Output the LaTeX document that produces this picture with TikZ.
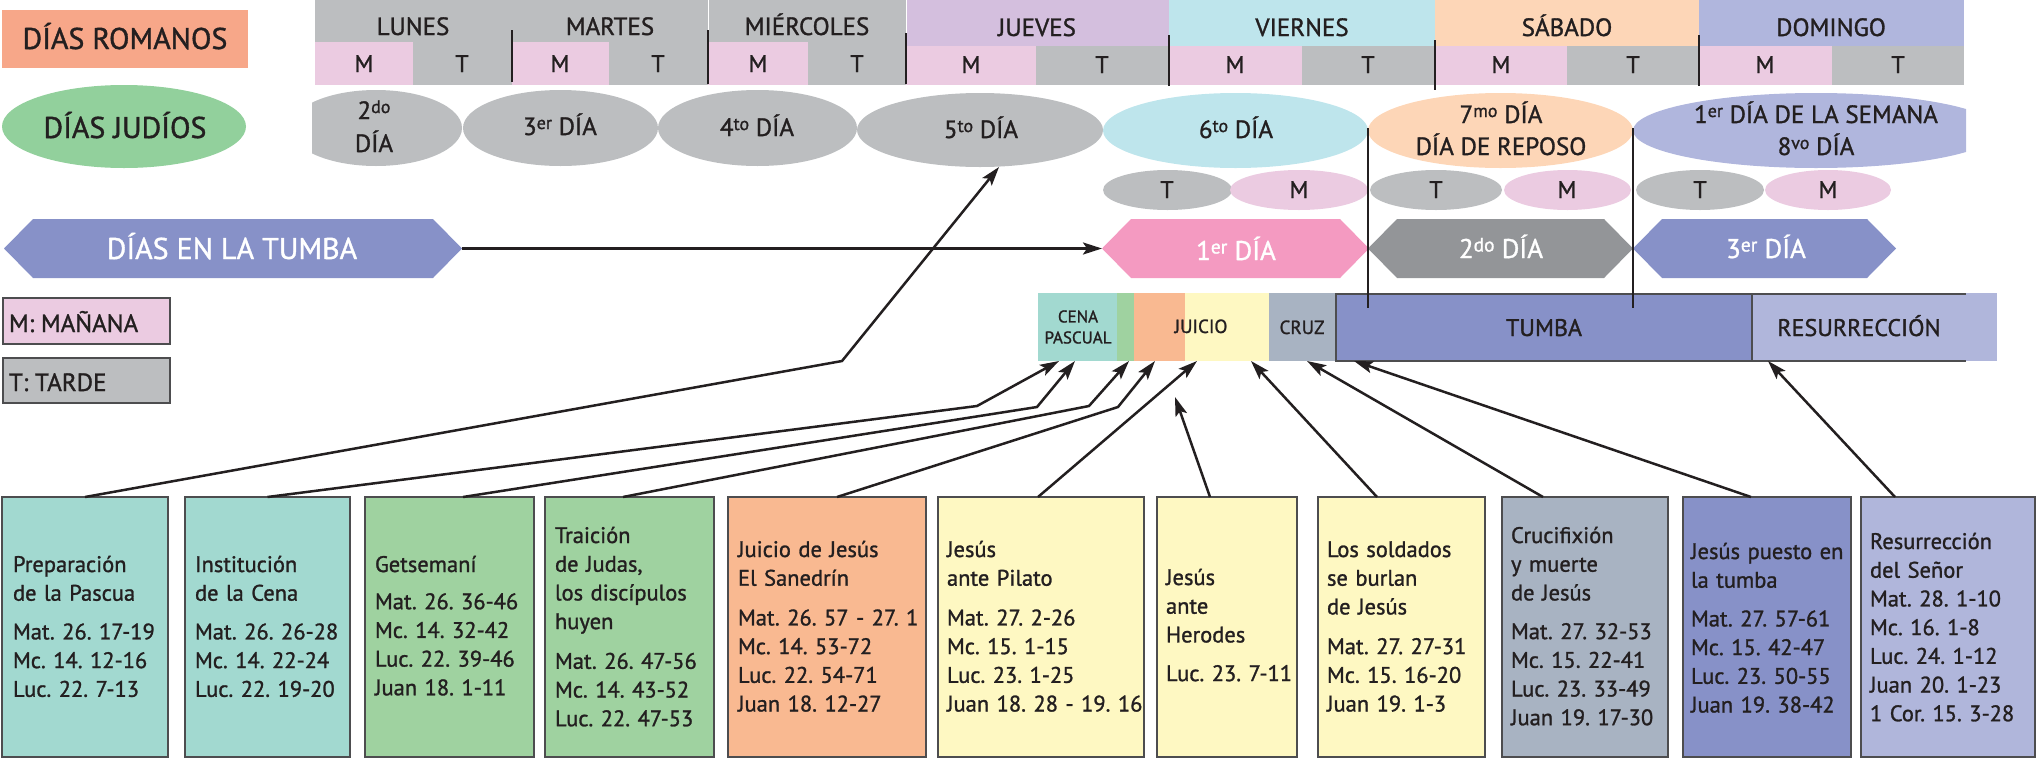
\documentclass[tikz,border=0pt]{standalone}
\usepackage{graphicx}
\usepackage{fontspec}
\setmainfont{PT Sans}[FakeBold=1.2]
\usetikzlibrary{shapes.geometric,arrows.meta,calc}
\definecolor{txt}{HTML}{231F20}
\definecolor{hgrey}{HTML}{BCBEC0}
\definecolor{mpink}{HTML}{EBCBE1}
\definecolor{juev}{HTML}{D4BFDE}
\definecolor{vier}{HTML}{BEE5EC}
\definecolor{saba}{HTML}{FDD6B7}
\definecolor{domi}{HTML}{B0B6DD}
\definecolor{romanos}{HTML}{F7A789}
\definecolor{judios}{HTML}{92D09C}
\definecolor{tumC}{HTML}{8791C8}
\definecolor{diaA}{HTML}{F49AC1}
\definecolor{diaB}{HTML}{939598}
\definecolor{cenaC}{HTML}{A2D9D0}
\definecolor{getC}{HTML}{9FD2A0}
\definecolor{juiO}{HTML}{F9B991}
\definecolor{juiY}{HTML}{FEF8C2}
\definecolor{cruzC}{HTML}{A8B3C2}
\definecolor{resC}{HTML}{B0B6DB}
\definecolor{bord}{HTML}{4D4D4F}
\newcommand\hexshape[3]{\fill[#1] (#2,248.5) -- (#2+29,219) -- (#3-29,219) -- (#3,248.5) -- (#3-29,278) -- (#2+29,278) -- cycle;}
\newcommand\sups[1]{\raisebox{0.24em}{\scalebox{0.72}{#1}}}
\frenchspacing
\begin{document}
\frenchspacing
\begin{tikzpicture}[x=1pt,y=-1pt,
  every node/.style={inner sep=0pt,outer sep=0pt,text=txt},
  tx/.style={anchor=base,font={\fontsize{#1}{#1}\selectfont\frenchspacing}},
  wt/.style={tx=#1,text=white},
  sm/.style={ellipse,minimum height=40pt},
  ell/.style={ellipse},
  barseg/.style={anchor=north west,minimum height=68pt},
  bx/.style={draw=bord,line width=1.2pt,anchor=north west,minimum height=260pt},
  bt/.style={anchor=base west,font={\fontsize{22.5}{28.7}\selectfont\frenchspacing},text width=200pt,align=left},
  lg/.style={draw=bord,line width=1.2pt,anchor=north west,minimum width=167pt},
  lgt/.style={anchor=base west,font={\fontsize{25}{25}\selectfont}},
  arr/.style={line width=2.5pt,draw=txt,-{Stealth[length=19pt,width=12pt,inset=4pt]}},
  dv/.style={line width=2pt,draw=txt}]
\useasboundingbox (0,0) rectangle (2037,758);

% legend titles
\node[fill=romanos,minimum width=246pt,minimum height=58pt,anchor=north west] (romB) at (2,10) {};
\node[tx=30] (romT) at (125,49) {DÍAS ROMANOS};
\node[ellipse,fill=judios,minimum width=244pt,minimum height=83pt] (judE) at (124,126.5) {};
\node[tx=30] (judT) at (125,138) {DÍAS JUDÍOS};

% header bands
\fill[hgrey] (315,0) rectangle (906,42);
\fill[juev] (906,0) rectangle (1169,46);
\fill[vier] (1169,0) rectangle (1435,46);
\fill[saba] (1435,0) rectangle (1699,46);
\fill[domi] (1699,0) rectangle (1964,46);
\foreach \a/\b/\c in {315/413/mpink,413/512/hgrey,512/609/mpink,609/708/hgrey,708/808/mpink,808/906/hgrey}
  \fill[\c] (\a,42) rectangle (\b,85);
\foreach \a/\b/\c in {906/1036/mpink,1036/1169/hgrey,1169/1302/mpink,1302/1435/hgrey,1435/1567/mpink,1567/1699/hgrey,1699/1832/mpink,1832/1964/hgrey}
  \fill[\c] (\a,46) rectangle (\b,85);
\draw[white,line width=1pt] (708,0) -- (708,30) (906,0) -- (906,42);
\node[tx=25] (dLun) at (413,35) {LUNES};
\node[tx=25] (dMar) at (610,35) {MARTES};
\node[tx=25] (dMie) at (807,35) {MIÉRCOLES};
\node[tx=25] (dJue) at (1037,36) {JUEVES};
\node[tx=25] (dVie) at (1302,36) {VIERNES};
\node[tx=25] (dSab) at (1567,36) {SÁBADO};
\node[tx=25] (dDom) at (1831,36) {DOMINGO};
\foreach \x/\l/\n in {364/M/h1,462/T/h2,560/M/h3,658/T/h4,758/M/h5,857/T/h6}
  \node[tx=24] (\n) at (\x,72) {\l};
\foreach \x/\l/\n in {971/M/h7,1102/T/h8,1235/M/h9,1368/T/h10,1501/M/h11,1633/T/h12,1765/M/h13,1898/T/h14}
  \node[tx=24] (\n) at (\x,73) {\l};
\foreach \x/\a/\b in {512/30/82,708/30/84,906/33/84,1169/35/86,1435/40/90,1699/35/86}
  \draw[dv] (\x,\a) -- (\x,\b);

% jewish days
\begin{scope}
\clip (312,0) rectangle (1966,220);
\node[ell,fill=hgrey,minimum width=172pt,minimum height=76pt] (e2) at (376,128) {};
\node[ell,fill=hgrey,minimum width=195pt,minimum height=76pt] (e3) at (560.5,128) {};
\node[ell,fill=hgrey,minimum width=199pt,minimum height=76pt] (e4) at (757.5,128) {};
\node[ell,fill=hgrey,minimum width=246pt,minimum height=74pt] (e5) at (980,130) {};
\node[ell,fill=vier,minimum width=265pt,minimum height=75pt] (e6) at (1235.5,130.5) {};
\node[ell,fill=saba,minimum width=265pt,minimum height=75pt] (e7) at (1500.5,130.5) {};
\node[ell,fill=domi,minimum width=366pt,minimum height=75pt] (e8) at (1816,130.5) {};
\end{scope}
\node[tx=25] (e2a) at (374,119) {2\sups{do}};
\node[tx=25] (e2b) at (374,152) {DÍA};
\node[tx=25] (e3t) at (560,135) {3\sups{er} DÍA};
\node[tx=25] (e4t) at (757,136) {4\sups{to} DÍA};
\node[tx=25] (e5t) at (981,138) {5\sups{to} DÍA};
\node[tx=25] (e6t) at (1236,138) {6\sups{to} DÍA};
\node[tx=25] (e7a) at (1501,123) {7\sups{mo} DÍA};
\node[tx=25] (e7b) at (1501,155) {DÍA DE REPOSO};
\node[tx=25] (e8a) at (1816,123) {1\sups{er} DÍA DE LA SEMANA};
\node[tx=25] (e8b) at (1816,155) {8\sups{vo} DÍA};

% half days
\node[sm,fill=hgrey,minimum width=129pt] (s1) at (1167.5,190) {};
\node[sm,fill=mpink,minimum width=138pt] (s2) at (1299,190) {};
\node[sm,fill=hgrey,minimum width=132pt] (s3) at (1436,190) {};
\node[sm,fill=mpink,minimum width=127pt] (s4) at (1567.5,190) {};
\node[sm,fill=hgrey,minimum width=128pt] (s5) at (1700,190) {};
\node[sm,fill=mpink,minimum width=126pt] (s6) at (1828,190) {};
\foreach \x/\l/\n in {1167/T/s1t,1299/M/s2t,1436/T/s3t,1567/M/s4t,1700/T/s5t,1828/M/s6t}
  \node[tx=24] (\n) at (\x,198) {\l};

% days in the tomb
\hexshape{tumC}{4}{462}
\hexshape{diaA}{1102}{1369}
\hexshape{diaB}{1368}{1633}
\hexshape{tumC}{1633}{1896}
\coordinate (hxA) at (462,248.5);
\coordinate (hx1) at (1102,248.5);
\node[wt=30] (hAt) at (232,259) {DÍAS EN LA TUMBA};
\node[wt=27] (h1t) at (1236,260) {1\sups{er} DÍA};
\node[wt=27] (h2t) at (1501,258) {2\sups{do} DÍA};
\node[wt=27] (h3t) at (1766,258) {3\sups{er} DÍA};
\draw[arr] (hxA) -- (hx1);

% timeline bar
\node[barseg,fill=cenaC,minimum width=79pt] (cena) at (1038,293) {};
\node[barseg,fill=getC,minimum width=17pt] (gsl) at (1117,293) {};
\node[barseg,fill=juiO,minimum width=51pt] (jor) at (1134,293) {};
\node[barseg,fill=juiY,minimum width=84pt] (jye) at (1185,293) {};
\node[barseg,fill=cruzC,minimum width=67pt] (cruz) at (1269,293) {};
\node[barseg,fill=tumC,minimum width=416pt] (tumba) at (1336,293) {};
\fill[resC] (1966,293) rectangle (1997,361);
\node[barseg,fill=resC,minimum width=214pt] (resur) at (1752,293) {};
\draw[bord,line width=1.5pt] (1966,294) -- (1336,294) -- (1336,361) -- (1966,361);
\draw[bord,line width=1.5pt] (1752,294) -- (1752,361);
\node[anchor=center,align=center,font={\fontsize{17}{21}\selectfont}] (cenaT) at (1078,327) {CENA\\PASCUAL};
\node[tx=19] (juiT) at (1201,333) {JUICIO};
\node[tx=19] (cruzT) at (1302,334) {CRUZ};
\node[tx=24] (tumT) at (1544,336) {TUMBA};
\node[tx=24] (resT) at (1859,336) {RESURRECCIÓN};
\draw[line width=2.5pt,txt] (1368,128) -- (1368,308);
\draw[line width=2.5pt,txt] (1633,128) -- (1633,308);

% legend
\node[lg,fill=mpink,minimum height=46pt] (legM) at (3,298) {};
\node[lgt] (legMt) at (9,332) {M: MAÑANA};
\node[lg,fill=hgrey,minimum height=45pt] (legT) at (3,358) {};
\node[lgt] (legTt) at (9,391) {T: TARDE};

% boxes
\node[bx,fill=cenaC,minimum width=166pt] (b1) at (2,497) {};
\node[bx,fill=cenaC,minimum width=165pt] (b2) at (185,497) {};
\node[bx,fill=getC,minimum width=169pt] (b3) at (365,497) {};
\node[bx,fill=getC,minimum width=169pt] (b4) at (545,497) {};
\node[bx,fill=juiO,minimum width=198pt] (b5) at (728,497) {};
\node[bx,fill=juiY,minimum width=206pt] (b6) at (938,497) {};
\node[bx,fill=juiY,minimum width=140pt] (b7) at (1157,497) {};
\node[bx,fill=juiY,minimum width=167pt] (b8) at (1318,497) {};
\node[bx,fill=cruzC,minimum width=166pt] (b9) at (1502,497) {};
\node[bx,fill=tumC,minimum width=168pt] (b10) at (1683,497) {};
\node[bx,fill=resC,minimum width=174pt] (b11) at (1861,497) {};

\node[bt] (x1) at (13,572) {Preparación\\de la Pascua\\[10pt]Mat. 26. 17-19\\Mc. 14. 12-16\\Luc. 22. 7-13};
\node[bt] (x2) at (195,572) {Institución\\de la Cena\\[10pt]Mat. 26. 26-28\\Mc. 14. 22-24\\Luc. 22. 19-20};
\node[bt] (x3) at (375,572) {Getsemaní\\[8.5pt]Mat. 26. 36-46\\Mc. 14. 32-42\\Luc. 22. 39-46\\Juan 18. 1-11};
\node[bt] (x4) at (555,543) {Traición\\de Judas,\\los discípulos\\huyen\\[11pt]Mat. 26. 47-56\\Mc. 14. 43-52\\Luc. 22. 47-53};
\node[bt] (x5) at (738,557) {Juicio de Jesús\\El Sanedrín\\[11pt]Mat. 26. 57 - 27. 1\\Mc. 14. 53-72\\Luc. 22. 54-71\\Juan 18. 12-27};
\node[bt] (x6) at (947,557) {Jesús\\ante Pilato\\[11pt]Mat. 27. 2-26\\Mc. 15. 1-15\\Luc. 23. 1-25\\Juan 18. 28 - 19. 16};
\node[bt] (x7) at (1166,585) {Jesús\\ante\\Herodes\\[10pt]Luc. 23. 7-11};
\node[bt] (x8) at (1327,557) {Los soldados\\se burlan\\de Jesús\\[11pt]Mat. 27. 27-31\\Mc. 15. 16-20\\Juan 19. 1-3};
\node[bt] (x9) at (1511,543) {Crucifixión\\y muerte\\de Jesús\\[10pt]Mat. 27. 32-53\\Mc. 15. 22-41\\Luc. 23. 33-49\\Juan 19. 17-30};
\node[bt] (x10) at (1691,559) {Jesús puesto en\\la tumba\\[10pt]Mat. 27. 57-61\\Mc. 15. 42-47\\Luc. 23. 50-55\\Juan 19. 38-42};
\node[bt] (x11) at (1870,549) {Resurrección\\del Señor\\Mat. 28. 1-10\\Mc. 16. 1-8\\Luc. 24. 1-12\\Juan 20. 1-23\\1 Cor. 15. 3-28};

% connectors
\coordinate (p5) at (999,167);
\coordinate (hz) at (1175,397);
\draw[arr] (b1.north) -- (842,361) -- (p5);
\draw[arr] (b2.north) -- (977,406) -- ($(cena.south west)+(21,0)$);
\draw[arr] ([xshift=98pt]b3.north west) -- (1037,407) -- ($(cena.south west)+(37,0)$);
\draw[arr] ([xshift=78pt]b4.north west) -- (1089,406) -- ($(gsl.south west)+(12,0)$);
\draw[arr] ([xshift=109pt]b5.north west) -- (1118,407) -- ($(jor.south west)+(21,0)$);
\draw[arr] ([xshift=100pt]b6.north west) -- ($(jye.south west)+(12,0)$);
\draw[arr] ([xshift=53pt]b7.north west) -- (hz);
\draw[arr] ([xshift=59pt]b8.north west) -- ($(jye.south west)+(66,0)$);
\draw[arr] ([xshift=41pt]b9.north west) -- ($(cruz.south west)+(38,0)$);
\draw[arr] ([xshift=68pt]b10.north west) -- ($(tumba.south west)+(18,0)$);
\draw[arr] ([xshift=34pt]b11.north west) -- ($(resur.south west)+(16,0)$);
\end{tikzpicture}
\end{document}
